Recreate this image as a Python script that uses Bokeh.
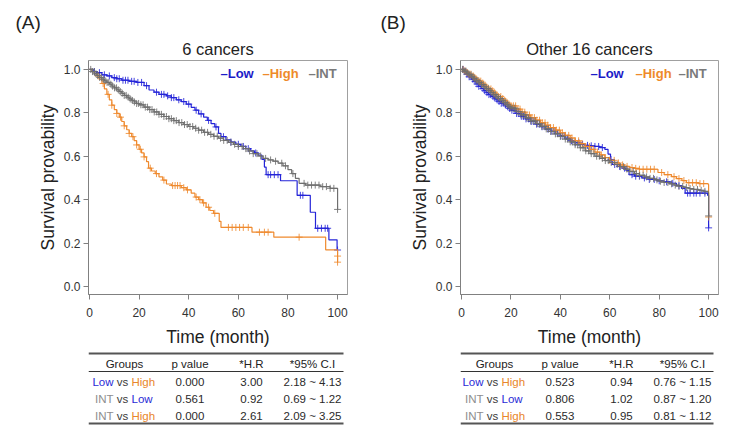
import numpy as np
from bokeh.plotting import figure
from bokeh.models import Range1d, FixedTicker, PrintfTickFormatter, Label, Title
from bokeh.layouts import row, column
from bokeh.embed import file_html
from bokeh.resources import INLINE
from bokeh.core.properties import value

FONT = "Liberation Sans"
C_LOW = "#2424d8"
C_HIGH = "#ef8a2e"
C_INT = "#6f6f6f"

# ---------------- Panel A: 6 cancers ----------------
a_low_t = [0, 1.5, 3, 5, 7, 9, 11, 13, 16, 19, 22, 24, 26, 28, 31, 33, 35, 37, 39, 41,
           42.5, 44, 46, 47.5, 49, 50.5, 52, 53, 55, 57, 59, 61, 63, 65, 66.5, 68, 69.5, 70.5, 71.2, 77,
           83.7, 89, 91.1, 96.5, 99.8, 100]
a_low_s = [1.0, 0.99, 0.985, 0.975, 0.97, 0.962, 0.957, 0.95, 0.945, 0.94, 0.925, 0.905, 0.895, 0.885, 0.878, 0.87, 0.86, 0.852, 0.84, 0.825,
           0.812, 0.795, 0.78, 0.765, 0.75, 0.735, 0.705, 0.69, 0.675, 0.665, 0.655, 0.645, 0.635, 0.625, 0.615, 0.605, 0.585, 0.55, 0.515, 0.487,
           0.42, 0.342, 0.268, 0.215, 0.168, 0.168]
a_low_c = [2, 4, 6, 8, 10, 11, 12, 13.5, 14.5, 15.5, 17, 18, 19.5, 21, 23, 27, 29, 30, 31.5, 33, 34, 36, 38, 40,
           43, 45, 48, 51, 54, 57, 60, 62, 64, 67, 72, 73, 74.5, 76, 85, 86, 92, 93.5, 95, 96, 100]

a_high_t = [0, 1, 2, 3, 4, 5, 6, 7, 8, 9, 10, 11, 12, 13, 14, 15, 16, 17, 18, 19, 20, 21, 22, 23,
            23.8, 25, 26.5, 28, 29.5, 31, 33, 37, 39, 41, 42.5, 44, 45.5, 47, 48.5, 50, 52.3, 53, 65.5, 74.3, 95.2, 100]
a_high_s = [1.0, 0.99, 0.98, 0.97, 0.955, 0.935, 0.91, 0.885, 0.86, 0.835, 0.815, 0.797, 0.78, 0.76, 0.74, 0.722, 0.705, 0.69, 0.672, 0.652,
            0.632, 0.615, 0.597, 0.575, 0.545, 0.532, 0.52, 0.505, 0.49, 0.472, 0.465, 0.455, 0.445, 0.43, 0.412, 0.4, 0.385, 0.365, 0.35, 0.337,
            0.3, 0.272, 0.25, 0.227, 0.169, 0.112]
a_high_c = [3.5, 5.5, 7.5, 9, 11, 12.5, 14, 16, 17.5, 19, 20.5, 22, 24.5, 27, 30, 33.5, 34.5, 35.5, 36.5, 38, 39.5,
            43, 44.5, 46, 48, 50.5, 56, 57.5, 59, 60.5, 62, 64, 68.5, 70.5, 72, 84.5, 100]
a_high_extra_t = [100]
a_high_extra_s = [0.14]

a_int_t = [0, 1, 2, 3, 4, 5, 6, 7, 8, 9, 10, 11, 12, 13, 14, 15, 16, 17, 18, 19, 20,
           22, 24, 26, 28, 30, 32, 34, 36, 38, 40, 42, 44, 46, 48, 50, 52, 54, 56, 58, 60,
           62, 64, 66, 68, 70, 72, 74, 76, 78, 80, 81.5, 83, 84.5, 87, 93, 97, 100]
a_int_s = [1.0, 0.99, 0.98, 0.972, 0.963, 0.955, 0.947, 0.94, 0.932, 0.923, 0.915, 0.906, 0.898, 0.89, 0.88, 0.872, 0.864, 0.857, 0.85, 0.843, 0.837,
           0.826, 0.815, 0.804, 0.793, 0.783, 0.773, 0.764, 0.755, 0.746, 0.737, 0.729, 0.72, 0.71, 0.701, 0.692, 0.683, 0.673, 0.664, 0.655, 0.645,
           0.635, 0.624, 0.612, 0.601, 0.59, 0.583, 0.577, 0.568, 0.556, 0.538, 0.52, 0.498, 0.475, 0.467, 0.46, 0.452, 0.355]
a_int_c = [0.5, 1.2, 1.9, 2.6, 3.3, 4.1, 4.8, 5.6, 6.3, 7.1, 7.8, 8.6, 9.3, 10.1, 10.9, 11.6, 12.4, 13.2, 14, 14.8,
           15.6, 16.4, 17.3, 18.1, 19, 19.8, 20.7, 21.6, 22.5, 23.4, 24.3, 25.2, 26.1, 27.1, 28, 29, 30, 31, 32, 33,
           34, 35, 36.1, 37.2, 38.3, 39.4, 40.5, 41.6, 42.8, 44, 45.2, 46.4, 47.6, 48.9, 50.2, 51.5, 52.8, 54.1, 55.5, 57,
           58.5, 60, 61.5, 63, 64.5, 66, 67.5, 69, 71, 73, 75, 77.5, 79, 82, 86.5, 88, 89.5, 91, 92.5, 94, 95.5, 97, 98.5, 100]

# ---------------- Panel B: Other 16 cancers ----------------
b_low_t = [0, 1, 2, 3, 4, 5, 6, 7, 8, 9, 10, 11, 12, 13, 14, 15, 16, 17, 18, 19, 20,
           22, 24, 26, 28, 30, 32, 34, 36, 38, 40, 42, 44, 46, 48, 50, 52, 54, 56, 58,
           59.3, 60.3, 61, 63, 65, 66.5, 67.8, 70, 73, 76, 79, 82, 85, 87, 89, 90.5, 99.6, 100]
b_low_s = [1.0, 0.99, 0.978, 0.966, 0.955, 0.944, 0.933, 0.922, 0.912, 0.902, 0.893, 0.884, 0.876, 0.868, 0.86, 0.852, 0.844, 0.836, 0.828, 0.82, 0.812,
           0.797, 0.784, 0.772, 0.76, 0.748, 0.736, 0.725, 0.715, 0.705, 0.694, 0.683, 0.672, 0.662, 0.655, 0.65, 0.648, 0.645, 0.64, 0.632,
           0.61, 0.585, 0.562, 0.553, 0.545, 0.535, 0.515, 0.508, 0.5, 0.493, 0.487, 0.482, 0.475, 0.465, 0.452, 0.43, 0.42, 0.27]
b_low_c = [0.7, 1.5, 2.2, 3.1, 3.9, 4.6, 5.5, 6.3, 7.0, 7.9, 8.7, 9.4, 10.3, 11.1, 11.8, 12.7, 13.5, 14.4, 15.2, 16.1,
           16.9, 17.8, 18.7, 19.5, 20.4, 21.3, 22.3, 23.2, 24.2, 25.1, 26.1, 27.2, 28.2, 29.3, 30.4, 31.5, 32.6, 33.8, 35, 36.3,
           37.5, 38.8, 40.2, 41.6, 43, 44.5, 46, 47.5, 49, 51, 52.5, 54, 55.5, 57, 60.5, 62, 64, 66, 69, 70.5,
           72, 74, 76, 78, 80, 83, 85.5, 88, 91.5, 92.5, 94, 95, 96.5, 98.5, 100]

b_high_t = [0, 1, 2, 3, 4, 5, 6, 7, 8, 9, 10, 11, 12, 13, 14, 15, 16, 17, 18, 19, 20,
            22, 24, 26, 28, 30, 32, 34, 36, 38, 40, 42, 44, 46, 48, 50, 52, 54, 56, 58, 60,
            62, 64, 66, 68, 70, 72, 79.5, 82, 85, 87, 89.2, 91, 96, 99.8, 100]
b_high_s = [1.0, 0.993, 0.986, 0.978, 0.97, 0.962, 0.954, 0.946, 0.937, 0.928, 0.919, 0.91, 0.901, 0.892, 0.884, 0.875, 0.866, 0.857, 0.848, 0.84, 0.832,
            0.817, 0.803, 0.79, 0.778, 0.766, 0.754, 0.743, 0.732, 0.72, 0.708, 0.696, 0.684, 0.671, 0.658, 0.645, 0.632, 0.619, 0.606, 0.594, 0.581,
            0.569, 0.56, 0.553, 0.548, 0.544, 0.54, 0.525, 0.515, 0.506, 0.497, 0.488, 0.478, 0.474, 0.47, 0.32]
b_high_c = [0.6, 1.4, 2.3, 3, 3.8, 4.7, 5.4, 6.2, 7.1, 7.8, 8.6, 9.5, 10.2, 11, 11.9, 12.6, 13.4, 14.3, 15, 15.9,
            16.7, 17.5, 18.4, 19.2, 20.1, 21, 21.9, 22.8, 23.7, 24.6, 25.6, 26.5, 27.5, 28.5, 29.5, 30.5, 31.6, 32.7, 33.8, 34.9,
            36, 37.2, 38.4, 39.6, 40.8, 42.1, 43.4, 44.7, 46, 47.4, 48.8, 50.3, 51.8, 53.3, 55, 56.6, 58.2, 60, 61.8, 63.5,
            65.2, 67, 69, 70.5, 72, 73.5, 75, 76.5, 78, 81, 83.5, 86, 88, 90, 92, 93.5, 95, 96.5, 98, 100]

b_int_t = [0, 1, 2, 3, 4, 5, 6, 7, 8, 9, 10, 11, 12, 13, 14, 15, 16, 17, 18, 19, 20,
           22, 24, 26, 28, 30, 32, 34, 36, 38, 40, 42, 44, 46, 48, 50, 52, 54, 56, 58, 60,
           62, 64, 66, 68, 70, 72, 74, 76, 78, 80, 82, 84, 86, 88, 90, 92, 94, 96, 98, 99.8, 100]
b_int_s = [1.0, 0.992, 0.983, 0.975, 0.966, 0.957, 0.948, 0.939, 0.93, 0.92, 0.911, 0.902, 0.893, 0.884, 0.875, 0.866, 0.857, 0.848, 0.839, 0.83, 0.822,
           0.806, 0.791, 0.777, 0.763, 0.75, 0.738, 0.726, 0.714, 0.703, 0.691, 0.679, 0.666, 0.653, 0.639, 0.625, 0.612, 0.6, 0.59, 0.58, 0.571,
           0.562, 0.552, 0.541, 0.53, 0.52, 0.512, 0.505, 0.498, 0.491, 0.485, 0.479, 0.473, 0.467, 0.461, 0.456, 0.451, 0.447, 0.443, 0.438, 0.432, 0.325]
b_int_c = [0.4, 1.1, 1.8, 2.5, 3.2, 3.9, 4.6, 5.3, 6, 6.7, 7.4, 8.1, 8.8, 9.5, 10.2, 10.9, 11.6, 12.3, 13, 13.7,
           14.4, 15.1, 15.8, 16.5, 17.2, 17.9, 18.6, 19.3, 20, 20.8, 21.6, 22.4, 23.2, 24, 24.8, 25.6, 26.4, 27.2, 28, 28.9,
           29.8, 30.7, 31.6, 32.5, 33.4, 34.3, 35.2, 36.1, 37, 38, 39, 40, 41, 42, 43, 44, 45, 46, 47, 48.1,
           49.2, 50.3, 51.4, 52.5, 53.6, 54.7, 55.8, 57, 58.2, 59.4, 60.6, 61.8, 63, 64.3, 65.6, 66.9, 68.2, 69.5, 70.8, 72.1,
           73.5, 74.9, 76.3, 77.7, 79.1, 80.5, 82, 83.5, 85, 86.5, 88, 89.5, 91, 92.5, 94, 95.5, 97, 98.5, 100]

# ---------------- Tables ----------------
tab_headers = ["Groups", "p value", "*H.R", "*95% C.I"]
tab_left = ["Low", "INT", "INT"]
tab_right = ["High", "Low", "High"]
a_p = ["0.000", "0.561", "0.000"]
a_hr = ["3.00", "0.92", "2.61"]
a_ci = ["2.18 ~ 4.13", "0.69 ~ 1.22", "2.09 ~ 3.25"]
b_p = ["0.523", "0.806", "0.553"]
b_hr = ["0.94", "1.02", "0.95"]
b_ci = ["0.76 ~ 1.15", "0.87 ~ 1.20", "0.81 ~ 1.12"]

group_colors = {"Low": "#2a2ad6", "High": "#e9862c", "INT": "#8e8e8e"}
legend_items = [("\u2013Low", "#1c1cc8"), ("\u2013High", "#ee8a2a"), ("\u2013INT", "#7a7a7a")]

x_ticks = [0, 20, 40, 60, 80, 100]
y_ticks = [0.0, 0.2, 0.4, 0.6, 0.8, 1.0]


def step_value(times, surv, when):
    idx = np.searchsorted(np.asarray(times, dtype=float), np.asarray(when, dtype=float), side="right") - 1
    return np.asarray(surv)[idx]


def km_panel(title, tag, tag_offset, curves, extras, width, left, right, legend_x):
    p = figure(width=width, height=350, x_range=Range1d(-0.4, 104), y_range=Range1d(-0.037, 1.041),
               output_backend="svg", toolbar_location=None,
               min_border_left=left, min_border_right=right, min_border_top=60, min_border_bottom=56)
    p.background_fill_color = "white"
    p.border_fill_color = "white"
    p.outline_line_color = "#a0a0a0"
    p.grid.visible = False
    p.title = None

    # inner title (closest to the frame) then the panel tag above it
    p.add_layout(Title(text=title, align="center", text_font=FONT, text_font_size="16.5px",
                       text_font_style="normal", text_color="#222222", standoff=6), "above")
    p.add_layout(Title(text=tag, align="left", offset=tag_offset, text_font=FONT, text_font_size="19px",
                       text_font_style="normal", text_color="#222222", standoff=3), "above")

    for ax in (p.xaxis[0], p.yaxis[0]):
        ax.axis_line_color = "#808080"
        ax.major_tick_line_color = "#808080"
        ax.minor_tick_line_color = None
        ax.major_tick_in = 0
        ax.major_tick_out = 5
        ax.major_label_text_font = FONT
        ax.major_label_text_font_size = "12px"
        ax.major_label_text_color = "#333333"
        ax.axis_label_text_font = FONT
        ax.axis_label_text_font_size = "17.5px"
        ax.axis_label_text_font_style = "normal"
        ax.axis_label_text_color = "#222222"
    p.xaxis.ticker = FixedTicker(ticks=x_ticks)
    p.yaxis.ticker = FixedTicker(ticks=y_ticks)
    p.yaxis.formatter = PrintfTickFormatter(format="%.1f")
    p.xaxis.axis_label = "Time (month)"
    p.yaxis.axis_label = "Survival provability"
    p.xaxis.major_label_standoff = 8
    p.yaxis.major_label_standoff = 3
    p.xaxis.axis_label_standoff = 7
    p.yaxis.axis_label_standoff = 3

    for t, s, c, color in curves:
        p.step(t, s, mode="after", line_color=color, line_width=1.2)
        p.scatter(c, step_value(t, s, c), marker="cross", size=7,
                  line_color=color, line_width=1, line_alpha=0.85)
    for et, es, color in extras:
        p.scatter(et, es, marker="cross", size=7, line_color=color, line_width=1, line_alpha=0.85)

    for (txt, col), lx in zip(legend_items, legend_x):
        p.add_layout(Label(x=lx, y=221, x_units="screen", y_units="screen", text=txt,
                           text_font=FONT, text_font_size="13px", text_font_style="bold",
                           text_color=col, text_baseline="middle", text_align="left"))
    return p


def table_panel(width, frame_l, frame_r, shift, pv, hr, ci):
    # x coordinates are page pixels (frame is aligned with the plot above)
    t = figure(width=width, height=81, x_range=Range1d(frame_l, frame_r), y_range=Range1d(0, 81),
               output_backend="svg", toolbar_location=None, min_border=0,
               x_axis_location=None, y_axis_location=None)
    t.grid.visible = False
    t.outline_line_color = None
    t.background_fill_color = "white"
    t.border_fill_color = "white"

    x0, x1 = max(88 + shift, frame_l), 343 + shift
    col_x = [124 + shift, 189.5 + shift, 251 + shift, 312 + shift]
    row_y = [50, 33, 15.5]
    t.segment(x0=[x0, x0], y0=[78, 8], x1=[x1, x1], y1=[78, 8], line_color="#555555", line_width=2)
    t.segment(x0=[x0], y0=[60], x1=[x1], y1=[60], line_color="#333333", line_width=1)

    fs = "11.5px"
    t.text(x=col_x, y=[68] * 4, text=tab_headers, text_align="center", text_baseline="middle",
           text_font=value(FONT), text_font_size=fs, text_color="#222222")
    vs_c = 122 + shift
    t.text(x=[vs_c] * 3, y=row_y, text=["vs"] * 3, text_align="center", text_baseline="middle",
           text_font=value(FONT), text_font_size=fs, text_color="#3a3a3a")
    t.text(x=[vs_c - 9] * 3, y=row_y, text=tab_left, text_align="right", text_baseline="middle",
           text_font=value(FONT), text_font_size=fs, text_color=[group_colors[g] for g in tab_left])
    t.text(x=[vs_c + 9] * 3, y=row_y, text=tab_right, text_align="left", text_baseline="middle",
           text_font=value(FONT), text_font_size=fs, text_color=[group_colors[g] for g in tab_right])
    for cx, vals in zip(col_x[1:], (pv, hr, ci)):
        t.text(x=[cx] * 3, y=row_y, text=vals, text_align="center", text_baseline="middle",
               text_font=value(FONT), text_font_size=fs, text_color="#2a2a2a")
    return t


curves_a = [(a_low_t, a_low_s, a_low_c, C_LOW),
            (a_high_t, a_high_s, a_high_c, C_HIGH),
            (a_int_t, a_int_s, a_int_c, C_INT)]
curves_b = [(b_low_t, b_low_s, b_low_c, C_LOW),
            (b_high_t, b_high_s, b_high_c, C_HIGH),
            (b_int_t, b_int_s, b_int_c, C_INT)]

# panel A occupies page x 0..375 (frame 88..347); panel B page x 375..725 (frame 460..718)
km_a = km_panel("6 cancers", "(A)", -73, curves_a, [(a_high_extra_t, a_high_extra_s, C_HIGH)],
                375, 88, 28, [132, 174, 220])
km_b = km_panel("Other 16 cancers", "(B)", -80, curves_b, [],
                350, 85, 7, [130, 175, 218])
tab_a = table_panel(375, 88, 347, 0, a_p, a_hr, a_ci)
tab_b = table_panel(350, 460, 718, 370, b_p, b_hr, b_ci)

layout = row(column(km_a, tab_a), column(km_b, tab_b))
open("out.html", "w").write(file_html(layout, INLINE, title="Survival curves"))
